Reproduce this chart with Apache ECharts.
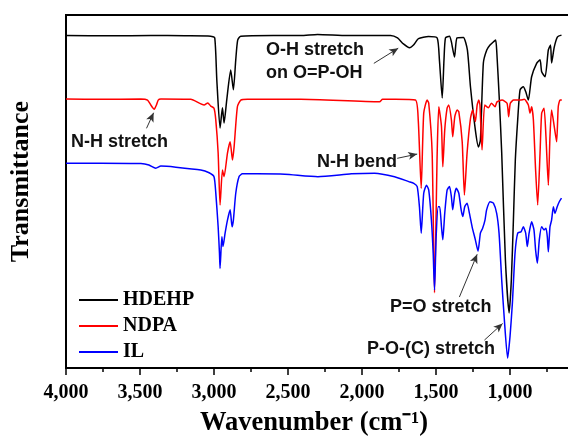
<!DOCTYPE html>
<html>
<head>
<meta charset="utf-8">
<script src="https://cdn.jsdelivr.net/npm/echarts@6/dist/echarts.min.js"></script>
<style>
html, body { margin: 0; padding: 0; overflow: hidden; background: #fff; }
#panel { width: 600px; height: 442px; }
</style>
</head>
<body>
<div id="panel"></div>
<script>
// FTIR spectra, [wavenumber cm-1, transmittance (offset, a.u.)]
const hdehp = [
  [4000, 94.2], [3700, 94.1], [3426, 94.2], [3200, 94.1], [3022, 94.0], [2995, 93.5],
  [2981, 81.6], [2959, 68.0], [2943, 73.7], [2932, 69.4], [2914, 75.9], [2887, 84.4],
  [2869, 78.8], [2853, 87.3], [2840, 92.9], [2819, 94.0], [2600, 94.2], [2414, 94.2],
  [2300, 94.5], [2100, 94.2], [1807, 94.2], [1760, 93.5], [1720, 91.8], [1679, 90.7],
  [1652, 91.5], [1618, 93.3], [1551, 93.9], [1492, 93.5], [1477, 87.3], [1458, 76.5],
  [1446, 87.3], [1436, 93.5], [1409, 94.0], [1396, 92.4], [1375, 88.1], [1358, 93.5],
  [1315, 93.6], [1288, 90.1], [1267, 79.6], [1234, 67.4], [1213, 62.6], [1200, 64.6],
  [1180, 86.4], [1157, 90.1], [1135, 91.5], [1112, 92.4], [1097, 92.9], [1090, 90.1],
  [1072, 75.9], [1056, 60.9], [1031, 30.6], [1006, 15.6], [991, 24.9], [977, 41.9],
  [964, 58.9], [948, 70.3], [932, 78.8], [910, 79.7], [894, 78.3], [876, 75.9],
  [854, 82.5], [820, 86.3], [797, 87.3], [786, 83.9], [763, 82.5], [741, 90.1],
  [726, 91.5], [719, 86.4], [701, 90.9], [679, 93.8], [652, 94.3]
];
const ndpa = [
  [4000, 76.2], [3764, 76.1], [3494, 76.2], [3449, 75.9], [3427, 74.5], [3404, 73.3],
  [3389, 74.5], [3377, 75.9], [3359, 76.2], [3157, 76.1], [3067, 74.5], [3042, 75.1],
  [3022, 74.2], [3000, 73.6], [2988, 70.3], [2972, 60.9], [2959, 46.2], [2943, 56.1],
  [2932, 54.2], [2909, 60.9], [2891, 64.1], [2875, 58.9], [2864, 62.7], [2842, 74.0],
  [2819, 75.9], [2774, 76.1], [2414, 76.1], [1881, 75.4], [1861, 76.1], [1774, 76.1],
  [1639, 75.9], [1620, 70.3], [1600, 50.9], [1583, 72.2], [1560, 75.9], [1549, 75.0],
  [1526, 60.9], [1510, 21.3], [1492, 60.9], [1481, 74.0], [1463, 68.4], [1454, 57.0],
  [1441, 67.4], [1425, 73.6], [1414, 74.5], [1396, 70.3], [1387, 65.5], [1373, 71.2],
  [1357, 73.1], [1346, 72.6], [1323, 64.1], [1308, 49.0], [1290, 60.9], [1267, 70.7],
  [1252, 73.1], [1234, 69.8], [1222, 74.5], [1211, 75.9], [1203, 74.5], [1189, 61.8],
  [1171, 74.5], [1146, 73.7], [1126, 75.0], [1101, 74.0], [1088, 75.4], [1054, 75.9],
  [1020, 75.0], [1009, 71.2], [998, 75.0], [975, 75.9], [932, 75.9], [903, 76.1],
  [876, 74.5], [865, 72.2], [854, 74.0], [842, 70.3], [827, 56.1], [813, 46.2],
  [797, 60.9], [786, 72.2], [770, 73.6], [757, 65.5], [741, 51.8], [730, 65.5],
  [719, 73.1], [701, 68.4], [685, 64.1], [674, 74.0], [662, 75.9], [650, 75.9]
];
const il = [
  [4000, 58.0], [3764, 58.0], [3494, 57.9], [3440, 57.5], [3393, 56.6], [3359, 57.2],
  [3258, 56.9], [3089, 56.1], [3033, 55.3], [3000, 54.2], [2988, 49.6], [2972, 40.0],
  [2963, 32.5], [2959, 28.2], [2947, 37.2], [2939, 34.4], [2925, 38.2], [2909, 41.9],
  [2891, 44.8], [2878, 40.0], [2869, 41.9], [2853, 49.5], [2831, 54.2], [2808, 55.0],
  [2707, 55.0], [2522, 54.9], [2298, 54.2], [2072, 55.0], [1915, 55.2], [1780, 54.2],
  [1684, 52.8], [1650, 52.3], [1627, 51.4], [1612, 45.7], [1600, 38.2], [1583, 49.5],
  [1564, 51.8], [1549, 50.4], [1531, 41.9], [1519, 32.5], [1510, 22.1], [1499, 37.2],
  [1485, 45.7], [1475, 45.7], [1463, 40.0], [1454, 36.3], [1441, 43.8], [1425, 50.4],
  [1409, 51.4], [1396, 48.5], [1387, 44.8], [1373, 49.5], [1362, 50.9], [1346, 49.5],
  [1330, 44.8], [1319, 42.9], [1306, 45.7], [1290, 46.7], [1274, 43.8], [1256, 40.0],
  [1234, 36.3], [1216, 33.1], [1200, 38.2], [1185, 39.6], [1169, 41.9], [1158, 44.8],
  [1135, 47.1], [1112, 46.7], [1090, 43.8], [1074, 38.2], [1056, 24.9], [1038, 13.6],
  [1016, 2.8], [1000, 8.9], [984, 18.3], [966, 32.5], [948, 38.2], [925, 38.6],
  [910, 40.0], [894, 38.2], [883, 34.4], [871, 38.2], [854, 41.4], [838, 39.1],
  [827, 33.4], [815, 29.7], [802, 36.3], [786, 40.0], [770, 39.1], [757, 39.6],
  [748, 37.2], [741, 32.9], [730, 40.0], [719, 41.9], [707, 45.7], [696, 43.8],
  [681, 45.7], [667, 47.1], [652, 48.1]
];
const seriesNames = ['HDEHP', 'NDPA', 'IL'];
const seriesColors = ['#000000', '#ff0000', '#0000ff'];

// arrows (data coords) and their labels
const arrowFrom = [[3456, 67.9], [1920, 86.3], [1762, 59.4], [1342, 20.1], [1173, 7.9]];
const arrowTo = [[3408, 72.3], [1755, 90.6], [1627, 60.6], [1222, 32.2], [1050, 12.6]];
const noteTexts = ['N-H stretch', 'O-H stretch', 'on O=P-OH', 'N-H bend', 'P=O stretch', 'P-O-(C) stretch'];
const notePos = [[71, 142], [266, 50], [266, 73], [317, 162], [390, 307], [367, 349]];

const serif = 'Liberation Serif';
const myChart = echarts.init(document.getElementById('panel'));

const option = {
  animation: false,
  backgroundColor: '#fff',
  grid: {
    left: 65, right: 16, top: 15, bottom: 73,
    show: true, borderColor: '#000', borderWidth: 2
  },
  legend: {
    orient: 'vertical',
    left: 74, top: 285,
    icon: 'rect',
    itemWidth: 39, itemHeight: 2, itemGap: 6,
    data: seriesNames,
    textStyle: { fontFamily: serif, fontWeight: 'bold', fontSize: 20, color: '#000' }
  },
  xAxis: {
    type: 'value',
    inverse: true,
    min: 500, max: 4000, interval: 500,
    axisLine: { lineStyle: { color: '#000', width: 2 } },
    axisTick: { length: 7, lineStyle: { color: '#000', width: 1.5 } },
    minorTick: { show: true, splitNumber: 2, length: 4, lineStyle: { color: '#000', width: 1.5 } },
    splitLine: { show: false },
    axisLabel: {
      margin: 15,
      fontFamily: serif, fontWeight: 'bold', fontSize: 20, color: '#000',
      formatter: (v) => (v < 1000 ? '' : v.toLocaleString('en-US'))
    },
    name: 'Wavenumber (cm\u207B\u00B9)',
    nameLocation: 'middle',
    nameGap: 42,
    nameTextStyle: { fontFamily: serif, fontWeight: 'bold', fontSize: 26.5, color: '#000', padding: [0, 22, 0, 0] }
  },
  yAxis: {
    type: 'value',
    min: 0, max: 100,
    axisLine: { show: true, lineStyle: { color: '#000', width: 2 } },
    axisTick: { show: false },
    axisLabel: { show: false },
    splitLine: { show: false },
    name: 'Transmittance',
    nameLocation: 'middle',
    nameGap: 32,
    nameTextStyle: { fontFamily: serif, fontWeight: 'bold', fontSize: 26, color: '#000', padding: [0, 0, 0, 20] }
  },
  series: [hdehp, ndpa, il].map((d, i) => ({
    name: seriesNames[i],
    type: 'line',
    data: d,
    symbol: 'none',
    smooth: 0.2,
    color: seriesColors[i],
    lineStyle: { width: 1.5, color: seriesColors[i] },
    markLine: i === 0 ? {
      silent: true,
      symbol: ['none', 'arrow'],
      symbolSize: [6, 9],
      label: { show: false },
      lineStyle: { color: '#333', width: 1, type: 'solid' },
      data: arrowFrom.map((f, k) => [{ coord: f }, { coord: arrowTo[k] }])
    } : undefined
  })),
  graphic: noteTexts.map((t, k) => ({
    type: 'text',
    x: notePos[k][0],
    y: notePos[k][1],
    style: {
      text: t,
      font: 'bold 18px "Liberation Sans", Arial, sans-serif',
      fill: '#111',
      align: 'left',
      verticalAlign: 'middle'
    }
  }))
};
myChart.setOption(option);
</script>
</body>
</html>
